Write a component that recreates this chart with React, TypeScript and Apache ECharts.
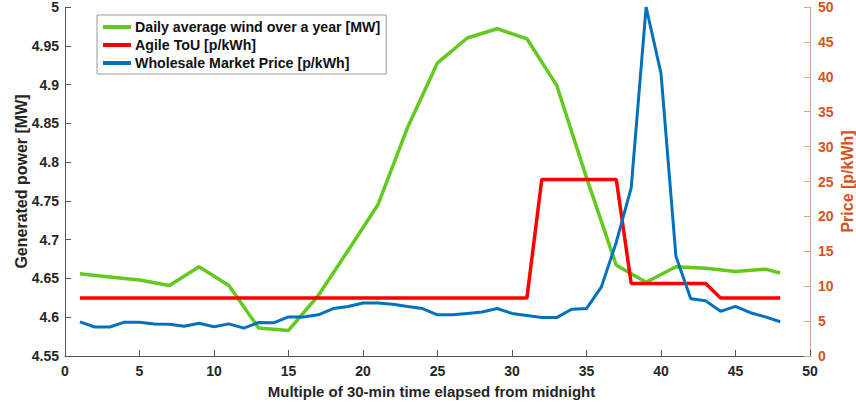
import React, { useEffect, useRef } from "react";
import * as echarts from "echarts";

const windX = [1, 3, 5, 7, 9, 11, 13, 15, 17, 19, 21, 23, 25, 27, 29, 31, 33, 35, 37, 39, 41, 43, 45, 47, 48];
const windMW = [4.656, 4.652, 4.648, 4.641, 4.665, 4.641, 4.586, 4.583, 4.628, 4.686, 4.745, 4.845, 4.928, 4.96, 4.972, 4.959, 4.899, 4.78, 4.667, 4.645, 4.665, 4.663, 4.659, 4.662, 4.657];

const slots = Array.from({ length: 48 }, (_, i) => i + 1);
const agileToU = [
  8.3, 8.3, 8.3, 8.3, 8.3, 8.3, 8.3, 8.3, 8.3, 8.3,
  8.3, 8.3, 8.3, 8.3, 8.3, 8.3, 8.3, 8.3, 8.3, 8.3,
  8.3, 8.3, 8.3, 8.3, 8.3, 8.3, 8.3, 8.3, 8.3, 8.3,
  8.3, 25.3, 25.3, 25.3, 25.3, 25.3, 25.3, 10.4, 10.4, 10.4,
  10.4, 10.4, 10.4, 8.3, 8.3, 8.3, 8.3, 8.3,
];
const wholesale = [
  4.9, 4.15, 4.15, 4.85, 4.85, 4.6, 4.55, 4.25, 4.7, 4.2,
  4.6, 4.0, 4.8, 4.75, 5.6, 5.6, 5.9, 6.8, 7.1, 7.6,
  7.6, 7.4, 7.1, 6.8, 5.9, 5.9, 6.1, 6.3, 6.8, 6.1,
  5.8, 5.5, 5.5, 6.7, 6.8, 9.9, 16.3, 24.1, 50, 40.5,
  14.3, 8.2, 7.9, 6.4, 7.1, 6.2, 5.6, 4.9,
];

const seriesNames = [
  "Daily average wind over a year [MW]",
  "Agile ToU [p/kWh]",
  "Wholesale Market Price [p/kWh]",
];

const FONT = "'Liberation Sans', Arial, Helvetica, sans-serif";
const DARK = "#262626";
const ORANGE = "#D95319";

export default function App() {
  const ref = useRef<HTMLDivElement>(null);
  useEffect(() => {
    if (!ref.current) return;
    const chart = echarts.init(ref.current, undefined, { renderer: "svg" });
    chart.setOption({
      animation: false,
      backgroundColor: "#ffffff",
      textStyle: { fontFamily: FONT },
      grid: { left: 65, right: 46, top: 7, bottom: 52, outerBoundsMode: "none", containLabel: false },
      legend: {
        orient: "vertical",
        left: 97,
        top: 15,
        padding: [5, 6, 4, 6],
        itemGap: 4,
        itemWidth: 28,
        itemHeight: 4,
        icon: "rect",
        borderColor: "#9a9a9a",
        borderWidth: 1,
        backgroundColor: "#ffffff",
        textStyle: { fontFamily: FONT, fontWeight: "bold", fontSize: 14.2, color: "#111", lineHeight: 14, padding: [0, 0, 0, -1] },
        data: seriesNames,
      },
      xAxis: {
        type: "value",
        min: 0,
        max: 50,
        interval: 5,
        name: "Multiple of 30-min time elapsed from midnight",
        nameLocation: "middle",
        nameGap: 28,
        nameMoveOverlap: false,
        nameTextStyle: { fontFamily: FONT, fontWeight: "bold", fontSize: 15, color: DARK, padding: [0, 12, 0, 0] },
        axisLine: { lineStyle: { color: "#555", width: 1 } },
        axisTick: { inside: true, length: 6, lineStyle: { color: "#555" } },
        axisLabel: { fontFamily: FONT, fontWeight: "bold", fontSize: 14, color: DARK, margin: 8 },
        splitLine: { show: false },
      },
      yAxis: [
        {
          type: "value",
          min: 4.55,
          max: 5,
          interval: 0.05,
          name: "Generated power [MW]",
          nameLocation: "middle",
          nameGap: 36,
          nameMoveOverlap: false,
          nameTextStyle: { fontFamily: FONT, fontWeight: "bold", fontSize: 16, color: DARK },
          axisLine: { show: true, lineStyle: { color: "#555", width: 1 } },
          axisTick: { show: true, inside: true, length: 6, lineStyle: { color: "#555" } },
          axisLabel: { fontFamily: FONT, fontWeight: "bold", fontSize: 14, color: DARK, margin: 6 },
          splitLine: { show: false },
        },
        {
          type: "value",
          min: 0,
          max: 50,
          interval: 5,
          position: "right",
          name: "Price [p/kWh]",
          nameLocation: "middle",
          nameGap: 29,
          nameMoveOverlap: false,
          nameTextStyle: { fontFamily: FONT, fontWeight: "bold", fontSize: 16, color: ORANGE },
          axisLine: { show: true, lineStyle: { color: "#d9a585", width: 1 } },
          axisTick: { show: true, inside: true, length: 6, lineStyle: { color: "#d9a585" } },
          axisLabel: { fontFamily: FONT, fontWeight: "bold", fontSize: 14, color: ORANGE, margin: 8 },
          splitLine: { show: false },
        },
      ],
      series: [
        {
          name: seriesNames[0],
          type: "line",
          yAxisIndex: 0,
          symbol: "none",
          color: "#62c91e",
          lineStyle: { width: 3.5, color: "#62c91e" },
          data: windX.map((x, i) => [x, windMW[i]]),
          z: 3,
        },
        {
          name: seriesNames[1],
          type: "line",
          yAxisIndex: 1,
          symbol: "none",
          color: "#ff0000",
          lineStyle: { width: 3.5, color: "#ff0000" },
          data: slots.map((x, i) => [x, agileToU[i]]),
          z: 4,
        },
        {
          name: seriesNames[2],
          type: "line",
          yAxisIndex: 1,
          symbol: "none",
          color: "#0072BD",
          lineStyle: { width: 3, color: "#0072BD" },
          data: slots.map((x, i) => [x, wholesale[i]]),
          z: 5,
        },
      ],
    });
    return () => chart.dispose();
  }, []);
  return (
    <div
      ref={ref}
      style={{ position: "absolute", left: 0, top: 0, width: 856, height: 408 }}
    />
  );
}
